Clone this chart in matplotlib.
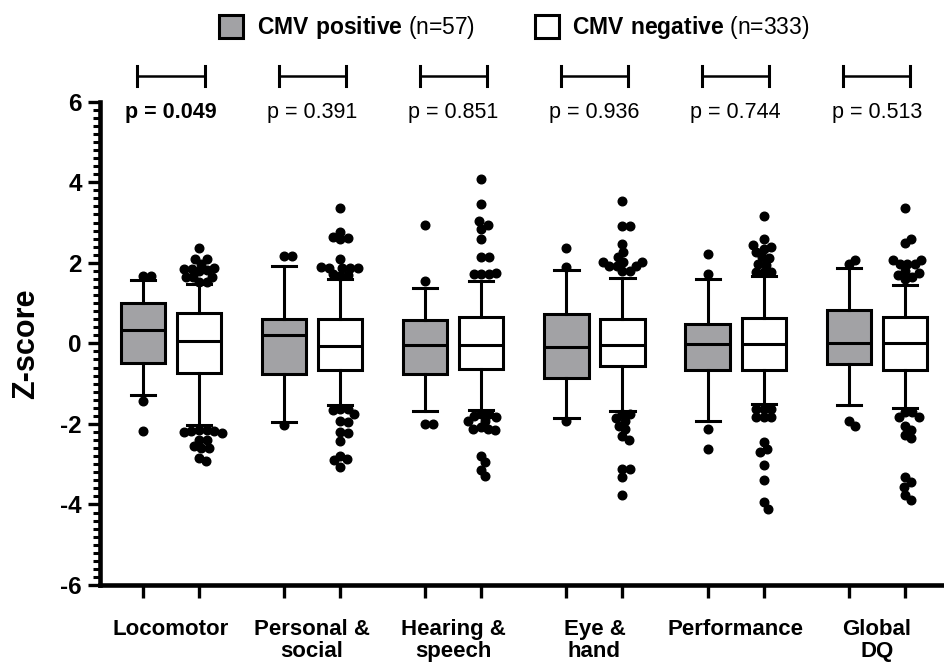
import numpy as np
import matplotlib
matplotlib.use('Agg')
import matplotlib.pyplot as plt
from matplotlib.patches import Patch

plt.rcParams['font.family'] = ['Liberation Sans', 'DejaVu Sans']
plt.rcParams['mathtext.fontset'] = 'custom'
plt.rcParams['mathtext.rm'] = 'Liberation Sans'
plt.rcParams['mathtext.bf'] = 'Liberation Sans:bold'

categories = ['Locomotor', 'Personal &\nsocial', 'Hearing &\nspeech', 'Eye &\nhand', 'Performance', 'Global\nDQ']
p_values = ['0.049', '0.391', '0.851', '0.936', '0.744', '0.513']
p_bold = [True, False, False, False, False, False]

# box stats: (whislo, q1, med, q3, whishi)
pos_stats = [
    (-1.27, -0.48, 0.34, 0.99, 1.57),
    (-1.94, -0.77, 0.22, 0.61, 1.92),
    (-1.68, -0.75, -0.05, 0.57, 1.37),
    (-1.85, -0.86, -0.09, 0.74, 1.82),
    (-1.92, -0.65, -0.01, 0.49, 1.59),
    (-1.54, -0.50, 0.02, 0.84, 1.88),
]
neg_stats = [
    (-2.03, -0.73, 0.07, 0.76, 1.48),
    (-1.52, -0.67, -0.07, 0.61, 1.61),
    (-1.65, -0.63, -0.05, 0.65, 1.54),
    (-1.68, -0.57, -0.03, 0.61, 1.63),
    (-1.50, -0.65, -0.01, 0.64, 1.67),
    (-1.61, -0.65, 0.02, 0.65, 1.44),
]

pos_fliers = [
    [1.67, 1.67, -1.42, -2.18],
    [2.17, 2.17, -2.03],
    [1.54, 2.94, -2.00, -2.00],
    [2.36, 1.90, -1.93],
    [1.73, 2.21, -2.13, -2.62],
    [2.08, 1.98, -1.93, -2.04],
]
neg_fliers = [
    [2.38, 2.10, 2.10, 1.98, 1.88, 1.85, 1.85, 1.82, 1.80, 1.65, 1.65, 1.65, 1.52, 1.52,
     -2.15, -2.15, -2.18, -2.18, -2.20, -2.22, -2.40, -2.40, -2.54, -2.60, -2.60, -2.85, -2.93],
    [3.35, 2.77, 2.64, 2.62, 2.58, 2.10, 1.90, 1.88, 1.88, 1.86, 1.88, 1.72, 1.70, 1.68,
     -1.62, -1.64, -1.65, -1.75, -1.93, -1.95, -2.20, -2.22, -2.42, -2.80, -2.88, -2.90, -3.07],
    [4.08, 3.47, 3.03, 2.94, 2.85, 2.59, 2.15, 2.15, 1.75, 1.73, 1.73, 1.73,
     -1.75, -1.75, -1.80, -1.82, -1.92, -1.92, -2.08, -2.12, -2.12, -2.16, -2.79, -2.95, -3.14, -3.30],
    [3.54, 2.91, 2.91, 2.46, 2.27, 2.15, 2.02, 2.02, 2.02, 1.92, 1.92, 1.92, 1.80, 1.80,
     -1.75, -1.75, -1.85, -1.93, -2.04, -2.13, -2.31, -2.41, -3.12, -3.12, -3.32, -3.76],
    [3.16, 2.59, 2.45, 2.40, 2.35, 2.28, 2.15, 2.12, 1.98, 1.95, 1.77, 1.77, 1.77,
     -1.62, -1.62, -1.62, -1.82, -1.82, -1.82, -2.45, -2.62, -2.69, -3.01, -3.39, -3.95, -4.11],
    [3.37, 2.60, 2.50, 2.08, 2.08, 1.98, 1.98, 1.98, 1.80, 1.75, 1.70, 1.65, 1.60,
     -1.71, -1.71, -1.82, -1.82, -2.06, -2.15, -2.27, -2.36, -3.33, -3.45, -3.56, -3.76, -3.88],
]

grey = '#a2a2a5'
group_step = 2.52
box_w = 0.79


def swarm(vals, xscale, yscale, d):
    # simple beeswarm: offsets in data units so dots of diameter d px don't overlap
    placed = []
    out = np.zeros(len(vals))
    order = np.argsort(np.abs(np.array(vals)))
    for i in order:
        y = vals[i] * yscale
        cands = [0.0]
        for (px, py) in placed:
            dy = abs(py - y)
            if dy < d:
                dx = np.sqrt(d * d - dy * dy)
                cands += [px + dx, px - dx]
        cands.sort(key=lambda c: (abs(c), -c))
        for c in cands:
            if all((c - px) ** 2 + (y - py) ** 2 >= d * d - 1e-6 for (px, py) in placed):
                placed.append((c, y))
                out[i] = c / xscale
                break
    return out


def to_bxp(stats):
    lo, q1, med, q3, hi = stats
    return dict(whislo=lo, q1=q1, med=med, q3=q3, whishi=hi, fliers=[])


fig = plt.figure(figsize=(9.44, 6.63), dpi=100)
ax = fig.add_axes([0.1059, 0.1176, 0.8941, 0.729])

pos_x = [1 + group_step * i for i in range(len(categories))]
neg_x = [2 + group_step * i for i in range(len(categories))]

lw = 2.2
for xs, stats, face in [(pos_x, pos_stats, grey), (neg_x, neg_stats, 'white')]:
    ax.bxp([to_bxp(s) for s in stats], positions=xs, widths=box_w, capwidths=0.43,
           patch_artist=True, showfliers=False, manage_ticks=False,
           boxprops=dict(facecolor=face, edgecolor='black', linewidth=lw),
           whiskerprops=dict(color='black', linewidth=lw),
           capprops=dict(color='black', linewidth=lw),
           medianprops=dict(color='black', linewidth=lw))

ax.set_xlim(0.232, 15.3)
ax.set_ylim(-6, 6)

# pixels per data unit, for the swarm layout
xscale = 56.0
yscale = 40.2
for xs, fl in [(pos_x, pos_fliers), (neg_x, neg_fliers)]:
    for x, vals in zip(xs, fl):
        off = swarm(vals, xscale, yscale, 7.6)
        ax.plot(x + off, vals, 'o', color='black', markersize=6.2, linestyle='none',
                clip_on=False, zorder=4)

# brackets and p-values
for i, (p, b) in enumerate(zip(p_values, p_bold)):
    c = (pos_x[i] + neg_x[i]) / 2
    x0, x1 = c - 0.6, c + 0.6
    ax.plot([x0, x1], [6.64, 6.64], color='black', lw=1.8, clip_on=False)
    for xx in (x0, x1):
        ax.plot([xx, xx], [6.4, 6.88], color='black', lw=2.2, clip_on=False)
    ax.text(c, 5.73, 'p = ' + p, ha='center', va='center', fontsize=15.5,
            fontweight='bold' if b else 'normal')

for s in ['top', 'right']:
    ax.spines[s].set_visible(False)
for s in ['left', 'bottom']:
    ax.spines[s].set_linewidth(3.3)

ax.set_yticks(np.arange(-6, 7, 2))
ax.set_yticks(np.arange(-6, 6.01, 0.2), minor=True)
ax.set_yticklabels([str(v) for v in range(-6, 7, 2)], fontsize=17.5, fontweight='bold')
ax.tick_params(axis='y', which='major', length=9, width=2.4, direction='out', pad=4)
ax.tick_params(axis='y', which='minor', length=5, width=2.2, direction='out')

ax.set_xticks(pos_x + neg_x)
ax.set_xticklabels([])
ax.tick_params(axis='x', which='major', length=9, width=2.4, direction='out')
for i, cat in enumerate(categories):
    ax.text((pos_x[i] + neg_x[i]) / 2, -6.85, cat, ha='center', va='top',
            fontsize=16, fontweight='bold', linespacing=1.05)

ax.set_ylabel('Z-score', fontsize=22, fontweight='bold', labelpad=14)

handles = [Patch(facecolor=grey, edgecolor='black', linewidth=2.2),
           Patch(facecolor='white', edgecolor='black', linewidth=2.2)]
labels = [r'$\bf{CMV\ positive}$ (n=57)', r'$\bf{CMV\ negative}$ (n=333)']
fig.legend(handles, labels, loc='center', bbox_to_anchor=(0.545, 0.958), ncol=2,
           frameon=False, fontsize=16.5, handlelength=1.05, handleheight=1.15,
           handletextpad=0.6, columnspacing=2.6)

fig.savefig('out.png', dpi=100)
